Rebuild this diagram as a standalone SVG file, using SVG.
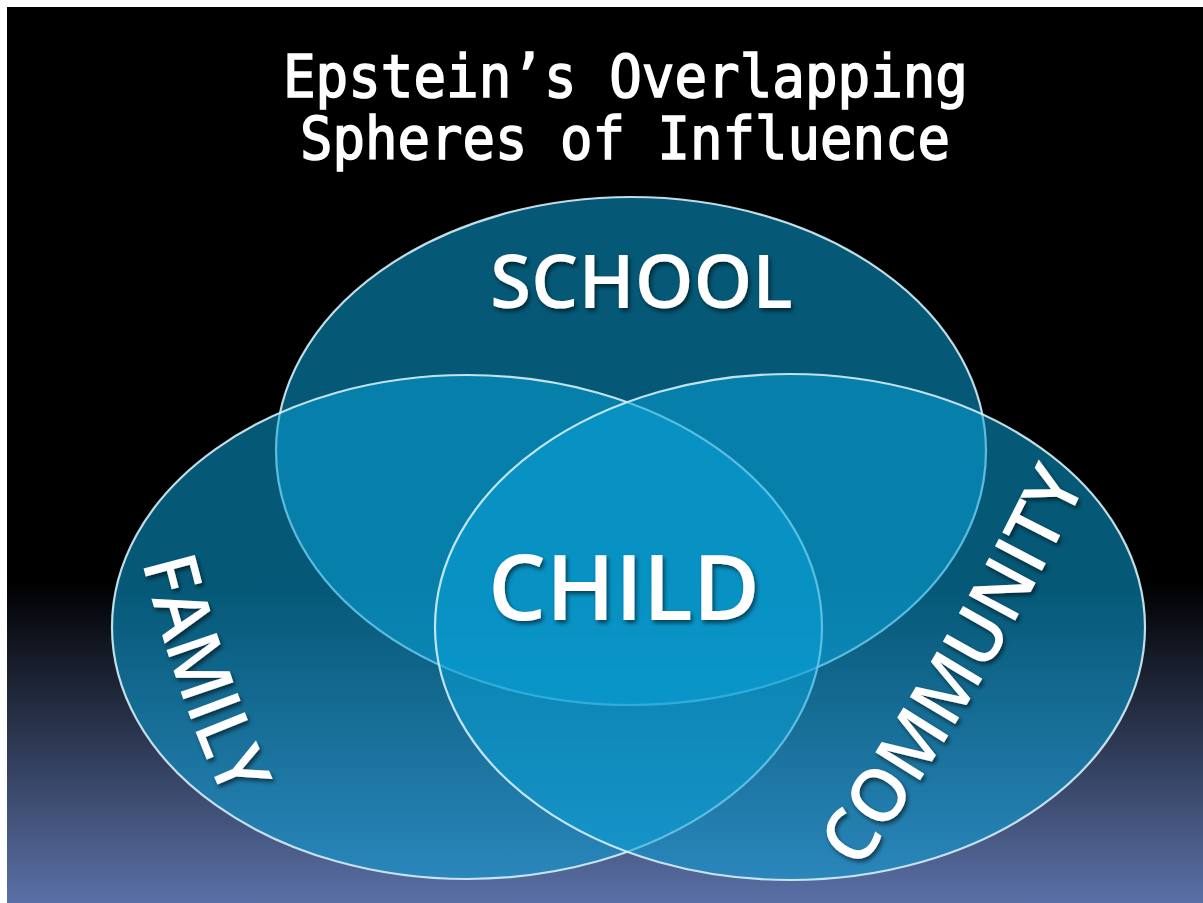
<svg xmlns="http://www.w3.org/2000/svg" width="1203" height="903" viewBox="0 0 1203 903">
  <defs>
    <linearGradient id="bg" gradientUnits="userSpaceOnUse" x1="0" y1="7" x2="0" y2="903">
      <stop offset="0" stop-color="#000000"/>
      <stop offset="0.64" stop-color="#000000"/>
      <stop offset="1" stop-color="#5a70a6"/>
    </linearGradient>
    <filter id="shadow" x="-20%" y="-20%" width="140%" height="140%">
      <feDropShadow dx="2" dy="3" stdDeviation="2" flood-color="#000000" flood-opacity="0.55"/>
    </filter>
    <path id="familyPath" d="M 136,543 L 142,562 Q 172,683.5 224,799 L 232,818"/>
    <path id="communityPath" d="M 849,888 L 859,871 Q 989,685 1085,485 L 1094,467"/>
  </defs>
  <style>
    .sphere { fill: rgb(10,160,215); fill-opacity: 0.55; stroke: #d5f0f8; stroke-width: 2.2; stroke-opacity: 0.9; }
    .title { font-family: "DejaVu Sans Mono", "Liberation Mono", monospace; font-weight: normal; font-size: 58px; fill: #ffffff; stroke: #ffffff; stroke-width: 1.6; }
    .label { font-family: "Open Sans", "Noto Sans", "Liberation Sans", sans-serif; font-weight: 600; fill: #ffffff; filter: url(#shadow); }
  </style>

  <rect x="0" y="0" width="1203" height="903" fill="#ffffff"/>
  <rect x="7" y="7" width="1196" height="896" fill="url(#bg)"/>

  <g id="title">
    <text class="title" x="283" y="97" textLength="685" lengthAdjust="spacingAndGlyphs">Epstein’s Overlapping</text>
    <text class="title" x="300" y="159" textLength="650" lengthAdjust="spacingAndGlyphs">Spheres of Influence</text>
  </g>

  <g id="school">
    <ellipse class="sphere" cx="631" cy="451" rx="355" ry="254"/>
  </g>
  <g id="family">
    <ellipse class="sphere" cx="467" cy="627" rx="355" ry="252"/>
  </g>
  <g id="community">
    <ellipse class="sphere" cx="790" cy="627" rx="355" ry="253"/>
  </g>

  <g id="connectors"></g>

  <g id="labels">
    <g id="school-label">
      <text class="label" x="490" y="308" font-size="74" textLength="303" lengthAdjust="spacingAndGlyphs">SCHOOL</text>
    </g>
    <g id="child">
      <text class="label" x="488" y="620" font-size="91" textLength="272" lengthAdjust="spacingAndGlyphs">CHILD</text>
    </g>
    <g id="family-label">
      <text class="label" font-size="74"><textPath href="#familyPath" startOffset="20" textLength="252" lengthAdjust="spacingAndGlyphs">FAMILY</textPath></text>
    </g>
    <g id="community-label">
      <text class="label" font-size="74"><textPath href="#communityPath" startOffset="20" textLength="450" lengthAdjust="spacingAndGlyphs">COMMUNITY</textPath></text>
    </g>
  </g>
</svg>
